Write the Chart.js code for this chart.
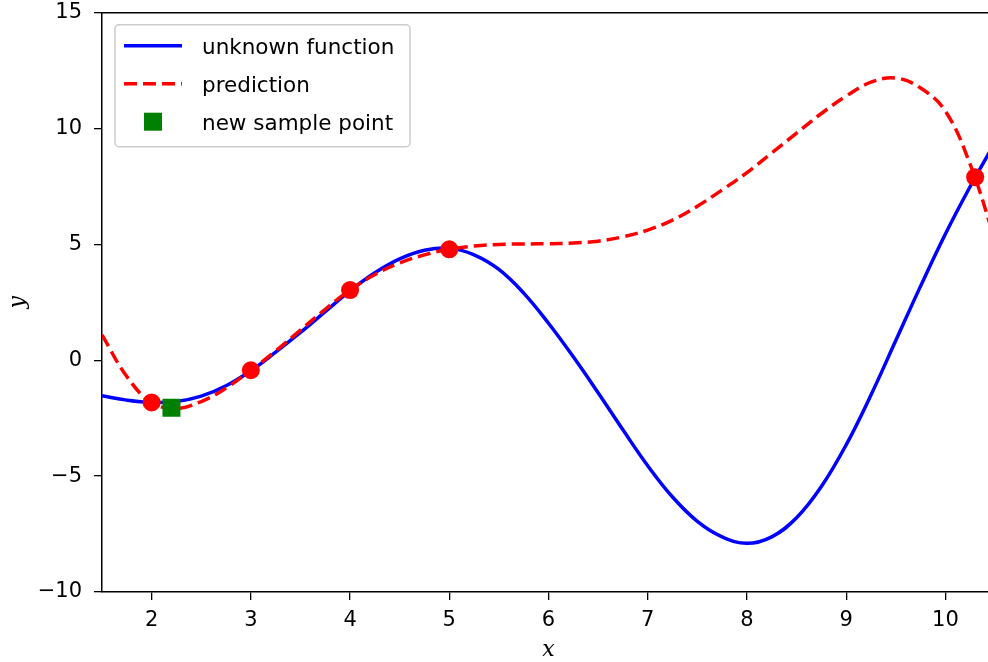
<!DOCTYPE html>
<html>
<head>
<meta charset="utf-8">
<script src="https://cdn.jsdelivr.net/npm/chart.js@4.4.0/dist/chart.umd.min.js"></script>
<style>
  html, body { margin: 0; padding: 0; background: #fff; overflow: hidden; }
  #wrap { position: relative; width: 1010px; height: 662px; }
</style>
</head>
<body>
<div id="wrap"><canvas id="chart"></canvas></div>
<script>
// values
var xs = [1.5, 1.75, 2, 2.25, 2.5, 2.75, 3, 3.25, 3.5, 3.75, 4, 4.25, 4.5, 4.75, 5,
          5.25, 5.5, 5.75, 6, 6.25, 6.5, 6.75, 7, 7.25, 7.5, 7.75, 8, 8.25, 8.5, 8.75,
          9, 9.25, 9.5, 9.75, 10, 10.25, 10.5];
var truthY = [-1.53, -1.72, -1.82, -1.78, -1.55, -1.1, -0.45, 0.35, 1.2, 2.1, 3.0, 3.78, 4.38, 4.75, 4.84,
              4.55, 3.92, 2.9, 1.6, 0.15, -1.4, -3.0, -4.55, -5.9, -6.95, -7.62, -7.9, -7.62, -6.8, -5.45,
              -3.65, -1.5, 0.85, 3.2, 5.45, 7.5, 9.4];
var predY = [1.1, -0.7, -1.82, -2.08, -1.78, -1.2, -0.43, 0.4, 1.3, 2.2, 3.03, 3.7, 4.2, 4.55, 4.79,
             4.93, 5.0, 5.02, 5.03, 5.06, 5.14, 5.33, 5.62, 6.05, 6.65, 7.35, 8.1, 8.95, 9.8, 10.65,
             11.4, 12.0, 12.18, 11.75, 10.75, 8.45, 5.2];
var sampleX = [2, 3, 4, 5, 10.3];
var sampleY = [-1.82, -0.43, 3.03, 4.79, 7.9];
var newX = [2.2];
var newY = [-2.05];
var xTicks = [2, 3, 4, 5, 6, 7, 8, 9, 10];
var yTicks = [-10, -5, 0, 5, 10, 15];

function pts(a, b) {
  return a.map(function(v, i) { return {x: v, y: b[i]}; });
}

Chart.defaults.font.family = "'DejaVu Sans', sans-serif";
Chart.defaults.font.size = 21;
Chart.defaults.color = '#000';

// top/right spines + legend box inside the axes, like matplotlib
var frame = {
  id: 'frame',
  afterDraw: function(chart) {
    var ctx = chart.ctx, ca = chart.chartArea;
    ctx.save();
    ctx.strokeStyle = '#000';
    ctx.lineWidth = 1.5;
    ctx.beginPath();
    ctx.moveTo(ca.left, ca.top);
    ctx.lineTo(ca.right, ca.top);
    ctx.lineTo(ca.right, ca.bottom);
    ctx.stroke();

    // legend
    var bx = ca.left + 13, by = ca.top + 12, bw = 295, bh = 122;
    ctx.fillStyle = 'rgba(255,255,255,0.8)';
    ctx.strokeStyle = '#cccccc';
    ctx.lineWidth = 1.5;
    ctx.beginPath();
    ctx.roundRect(bx, by, bw, bh, 4);
    ctx.fill();
    ctx.stroke();

    var ds = chart.data.datasets;
    var rows = [ds[0], ds[1], ds[3]];
    ctx.font = "21.5px 'DejaVu Sans', sans-serif";
    ctx.textBaseline = 'alphabetic';
    rows.forEach(function(d, i) {
      var ry = ca.top + 33 + i * 38;
      if (d.pointStyle === 'rect') {
        ctx.fillStyle = d.backgroundColor;
        ctx.fillRect(ca.left + 42, ry - 9, 18, 18);
      } else {
        ctx.strokeStyle = d.borderColor;
        ctx.lineWidth = d.borderWidth;
        ctx.setLineDash(d.borderDash || []);
        ctx.beginPath();
        ctx.moveTo(ca.left + 22, ry);
        ctx.lineTo(ca.left + 80, ry);
        ctx.stroke();
        ctx.setLineDash([]);
      }
      ctx.fillStyle = '#000';
      ctx.fillText(d.label, ca.left + 100, ry + 8);
    });
    ctx.restore();
  }
};

var ctx = document.getElementById('chart').getContext('2d');
var chart = new Chart(ctx, {
  type: 'line',
  data: {
    datasets: [{
      label: 'unknown function',
      data: pts(xs, truthY),
      borderColor: '#0000ff',
      borderWidth: 3.5,
      pointRadius: 0,
      tension: 0.4,
      order: 4
    }, {
      label: 'prediction',
      data: pts(xs, predY),
      borderColor: '#ff0000',
      borderWidth: 3.5,
      borderDash: [13, 6],
      pointRadius: 0,
      tension: 0.4,
      order: 3
    }, {
      label: 'samples',
      data: pts(sampleX, sampleY),
      showLine: false,
      pointRadius: 9,
      pointBackgroundColor: '#ff0000',
      pointBorderWidth: 0,
      order: 2
    }, {
      label: 'new sample point',
      data: pts(newX, newY),
      showLine: false,
      pointStyle: 'rect',
      pointRadius: 12.7,
      backgroundColor: '#008000',
      pointBackgroundColor: '#008000',
      pointBorderWidth: 0,
      order: 1
    }]
  },
  options: {
    responsive: true,
    maintainAspectRatio: false,
    animation: false,
    layout: { padding: { top: 12, right: 15, left: 0, bottom: 0 } },
    plugins: { legend: { display: false }, tooltip: { enabled: false } },
    scales: {
      x: {
        type: 'linear',
        min: 1.5,
        max: 10.5,
        afterBuildTicks: function(s) { s.ticks = xTicks.map(function(v) { return {value: v}; }); },
        afterFit: function(s) { s.height = 70; s.paddingLeft = 0; s.paddingRight = 0; },
        grid: { drawOnChartArea: false, color: '#000', lineWidth: 1.3, tickLength: 8 },
        border: { color: '#000', width: 1.5 },
        ticks: { padding: 8, maxRotation: 0 },
        title: {
          display: true,
          text: 'x',
          font: { family: "'DejaVu Serif', serif", style: 'italic', size: 22, lineHeight: 1 },
          padding: { top: 0, bottom: 1 }
        }
      },
      y: {
        min: -10,
        max: 15,
        afterBuildTicks: function(s) { s.ticks = yTicks.map(function(v) { return {value: v}; }); },
        afterFit: function(s) { s.width = 102; s.paddingTop = 0; s.paddingBottom = 0; },
        grid: { drawOnChartArea: false, color: '#000', lineWidth: 1.3, tickLength: 8 },
        border: { color: '#000', width: 1.5 },
        ticks: {
          padding: 12,
          callback: function(v) { return v < 0 ? '\u2212' + Math.abs(v) : String(v); }
        },
        title: {
          display: true,
          text: 'y',
          font: { family: "'DejaVu Serif', serif", style: 'italic', size: 22, lineHeight: 1 },
          padding: { top: 7, bottom: 0 }
        }
      }
    }
  },
  plugins: [frame]
});
</script>
</body>
</html>
